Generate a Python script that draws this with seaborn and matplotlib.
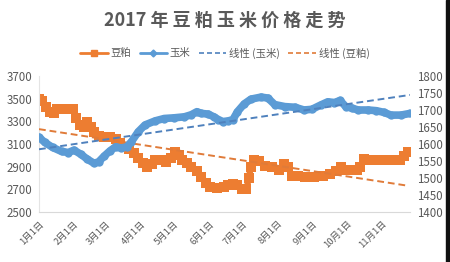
import numpy as np
import pandas as pd
import matplotlib
matplotlib.use("Agg")
import matplotlib.pyplot as plt
import seaborn as sns
from matplotlib.lines import Line2D
from matplotlib.patches import Rectangle

# ---- data (day of year offset from Jan 1, price) ----
soy_days = [0, 3, 6, 10, 13, 16, 20, 25, 30, 33, 36, 40, 43, 46, 49, 53, 58, 63, 68, 72,
            76, 80, 84, 88, 92, 96, 100, 103, 108, 113, 117, 121, 124, 127, 131, 135, 140,
            144, 148, 152, 158, 164, 168, 172, 176, 180, 184, 186, 188, 191, 195, 200, 207,
            213, 217, 221, 224, 230, 236, 244, 252, 258, 263, 268, 272, 277, 282, 285, 288,
            293, 300, 308, 314, 320, 324, 327]
soy_vals = [3500, 3480, 3430, 3380, 3370, 3405, 3410, 3410, 3410, 3330, 3270, 3250, 3290,
            3250, 3210, 3170, 3165, 3160, 3140, 3110, 3075, 3060, 3020, 2975, 2930, 2895,
            2920, 2960, 2955, 2945, 2975, 3030, 3000, 2960, 2930, 2900, 2860, 2810, 2760,
            2720, 2710, 2720, 2740, 2750, 2735, 2700, 2700, 2800, 2900, 2960, 2950, 2905,
            2900, 2870, 2920, 2900, 2820, 2815, 2812, 2812, 2815, 2835, 2860, 2900, 2875,
            2870, 2870, 2900, 2970, 2960, 2955, 2955, 2955, 2960, 2990, 3030]

corn_days = [0, 5, 12, 20, 26, 31, 37, 43, 49, 53, 58, 63, 68, 73, 78, 82, 88, 94, 103, 111,
             120, 129, 135, 140, 144, 150, 155, 159, 163, 168, 172, 176, 182, 188, 197, 203,
             209, 218, 227, 235, 242, 250, 256, 262, 267, 272, 278, 283, 292, 299, 306, 312,
             321, 329]
corn_vals = [1620, 1605, 1590, 1578, 1575, 1582, 1570, 1555, 1543, 1548, 1565, 1580, 1592,
             1588, 1592, 1607, 1636, 1656, 1668, 1675, 1677, 1680, 1686, 1695, 1690, 1688,
             1680, 1672, 1666, 1668, 1672, 1695, 1718, 1732, 1738, 1735, 1716, 1710, 1708,
             1700, 1702, 1715, 1724, 1722, 1728, 1710, 1705, 1700, 1700, 1698, 1693, 1685,
             1685, 1690]

tick_days = [0, 31, 59, 90, 120, 151, 181, 212, 243, 273, 304]
tick_labels = ["1月1日", "2月1日", "3月1日", "4月1日", "5月1日", "6月1日",
               "7月1日", "8月1日", "9月1日", "10月1日", "11月1日"]
left_ticks = [2500, 2700, 2900, 3100, 3300, 3500, 3700]
right_ticks = [1400, 1450, 1500, 1550, 1600, 1650, 1700, 1750, 1800]

title = "2017 年 豆 粕 玉 米 价 格 走 势"
names = ["豆粕", "玉米", "线性 (玉米)", "线性 (豆粕)"]

soy = pd.DataFrame({"day": soy_days, "price": soy_vals})
corn = pd.DataFrame({"day": corn_days, "price": corn_vals})

sns.set_style("white")
plt.rcParams["font.family"] = ["Noto Sans CJK SC", "DejaVu Sans"]

ORANGE = "#ED7D31"
BLUE = "#5B9BD5"
BLUE_T = "#4F81BD"
ORANGE_T = "#E07B39"
GRAY = "#595959"

fig = plt.figure(figsize=(4.5, 2.62), dpi=100)
ax = fig.add_axes([39 / 450, 1 - 212 / 262, (410 - 39) / 450, (212 - 76) / 262])
ax2 = ax.twinx()

sns.lineplot(data=soy, x="day", y="price", ax=ax, color=ORANGE, linewidth=4.5,
             marker="s", markersize=7, markeredgewidth=0, zorder=2)
sns.regplot(data=soy, x="day", y="price", ax=ax, scatter=False, ci=None,
            line_kws=dict(color=ORANGE_T, linestyle=(0, (3.5, 2)), linewidth=1.4, zorder=3),
            truncate=True)

sns.lineplot(data=corn, x="day", y="price", ax=ax2, color=BLUE, linewidth=5.5,
             marker="o", markersize=6, markeredgewidth=0, zorder=2)
sns.regplot(data=corn, x="day", y="price", ax=ax2, scatter=False, ci=None,
            line_kws=dict(color=BLUE_T, linestyle=(0, (3.5, 2)), linewidth=1.4, zorder=3),
            truncate=True)

ax.set_xlim(0, 329)
ax.set_ylim(2500, 3700)
ax2.set_ylim(1400, 1800)
ax.set_yticks(left_ticks)
ax2.set_yticks(right_ticks)
ax.set_xticks(tick_days)
ax.set_xticklabels(tick_labels, rotation=45, ha="right", rotation_mode="anchor")
ax.set_xlabel("")
ax.set_ylabel("")
ax2.set_ylabel("")

for a in (ax, ax2):
    a.tick_params(axis="y", labelsize=8.3, colors=GRAY, length=0, pad=5)
    for s in a.spines.values():
        s.set_visible(False)
ax.tick_params(axis="x", labelsize=6.8, colors=GRAY, length=3, width=0.7,
               color="#D9D9D9", pad=2)
ax.spines["bottom"].set_visible(True)
ax.spines["bottom"].set_color("#D9D9D9")
ax.spines["left"].set_visible(True)
ax.spines["left"].set_color("#E4E4E4")
ax.grid(False)
ax2.grid(False)

fig.text(0.5, 1 - 20 / 262, title, ha="center", va="center", fontsize=13,
         fontweight="bold", color=GRAY)

handles = [
    Line2D([], [], color=ORANGE, linewidth=2, marker="s", markersize=5),
    Line2D([], [], color=BLUE, linewidth=2, marker="D", markersize=3.5),
    Line2D([], [], color=BLUE_T, linewidth=1.2, linestyle=(0, (3, 1.8))),
    Line2D([], [], color=ORANGE_T, linewidth=1.2, linestyle=(0, (3, 1.8))),
]
fig.legend(handles, names, loc="center", bbox_to_anchor=(0.5, 1 - 53 / 262), ncol=4,
           frameon=False, fontsize=7.5, handlelength=2.6, handletextpad=0.3,
           columnspacing=0.8, labelcolor=GRAY)

fig.patches.append(Rectangle((446 / 450, 0), 4 / 450, 1, transform=fig.transFigure,
                             color="#111111", zorder=10))

fig.savefig("out.png", dpi=100)
